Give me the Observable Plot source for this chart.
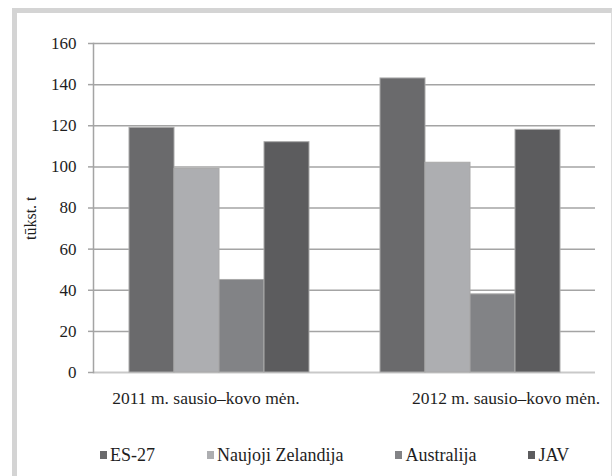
<!DOCTYPE html>
<html><head><meta charset="utf-8">
<script src="https://cdn.jsdelivr.net/npm/d3@7"></script>
<script src="https://cdn.jsdelivr.net/npm/@observablehq/plot@0.6"></script>
<style>
body{margin:0;width:612px;height:476px;position:relative;background:#fff;overflow:hidden;font-family:"Liberation Serif","Times New Roman",Times,"DejaVu Serif",serif;}
#frame{position:absolute;left:12px;top:8px;width:594px;height:468px;border-left:5px solid #d4d4d4;border-top:5px solid #d4d4d4;border-right:1px solid #dcdcdc;box-sizing:content-box;}
#chart{position:absolute;left:0;top:0;}
#chart svg, #chart svg text{font-family:"Liberation Serif","Times New Roman",Times,"DejaVu Serif",serif !important;}
#legend{position:absolute;left:100px;top:445px;display:flex;gap:52px;font-size:18px;color:#1e1e1e;line-height:20px;}
.item{display:flex;align-items:center;white-space:nowrap;}
.sw{width:7px;height:8px;margin-right:3px;}
</style></head><body>
<div id="frame"></div><div id="chart"></div><div id="legend"></div>
<script>
const groups = ["2011 m. sausio–kovo mėn.", "2012 m. sausio–kovo mėn."];
const series = ["ES-27", "Naujoji Zelandija", "Australija", "JAV"];
const values2011 = [119, 99, 45, 112];
const values2012 = [143, 102, 38, 118];
const colors = ["#6a6a6c", "#adaeb1", "#828386", "#5c5c5e"];
const yTicks = [0, 20, 40, 60, 80, 100, 120, 140, 160];
const yLabel = "tūkst. t";

const data = [];
series.forEach((s, i) => {
  data.push({group: groups[0], series: s, value: values2011[i]});
  data.push({group: groups[1], series: s, value: values2012[i]});
});

const gridColor = "#a4a4a4";
const serif = "'Liberation Serif', 'Times New Roman', Times, 'DejaVu Serif', serif";
const chart = Plot.plot({
  width: 612, height: 420,
  marginLeft: 93, marginRight: 17, marginTop: 43, marginBottom: 48,
  style: {background: "transparent", fontFamily: serif, fontSize: "17px", color: "#1e1e1e"},
  fx: {domain: groups, padding: 0, axis: null},
  x: {domain: series, paddingInner: 0, paddingOuter: 0.76, axis: null},
  y: {domain: [0, 160], axis: null},
  color: {domain: series, range: colors},
  marks: [
    Plot.ruleY(yTicks.filter(v => v > 0), {y: d => d, stroke: gridColor, strokeWidth: 1.5}),
    Plot.ruleY([0], {y: d => d, stroke: "#c9c9c9", strokeWidth: 2}),
    Plot.barY(data, {fx: "group", x: "series", y: "value", fill: "series", stroke: "#a9a9a9", strokeWidth: 1}),
    Plot.frame({anchor: "left", stroke: gridColor, strokeWidth: 1.5, fx: () => groups[0]}),
    Plot.axisY({ticks: yTicks, tickSize: 5, tickPadding: 12, stroke: gridColor, strokeWidth: 1.5, fill: "#1e1e1e", label: null, fontSize: 17}),
    Plot.text([yLabel], {fx: () => groups[0], text: d => d, frameAnchor: "left", rotate: -90, dx: -63, dy: 32, fontSize: 16, fill: "#1e1e1e"}),
    Plot.text([groups[0]], {fx: d => d, text: d => d, frameAnchor: "bottom", dy: 31, dx: -13, fontSize: 17.5, fill: "#1e1e1e"}),
    Plot.text([groups[1]], {fx: d => d, text: d => d, frameAnchor: "bottom", dy: 31, dx: 36, fontSize: 17.5, fill: "#1e1e1e"})
  ]
});
document.getElementById("chart").appendChild(chart);

const legend = document.getElementById("legend");
series.forEach((s, i) => {
  const item = document.createElement("div");
  item.className = "item";
  const sw = document.createElement("span");
  sw.className = "sw";
  sw.style.background = colors[i];
  const t = document.createElement("span");
  t.textContent = s;
  item.appendChild(sw); item.appendChild(t);
  legend.appendChild(item);
});
</script>
</body></html>
